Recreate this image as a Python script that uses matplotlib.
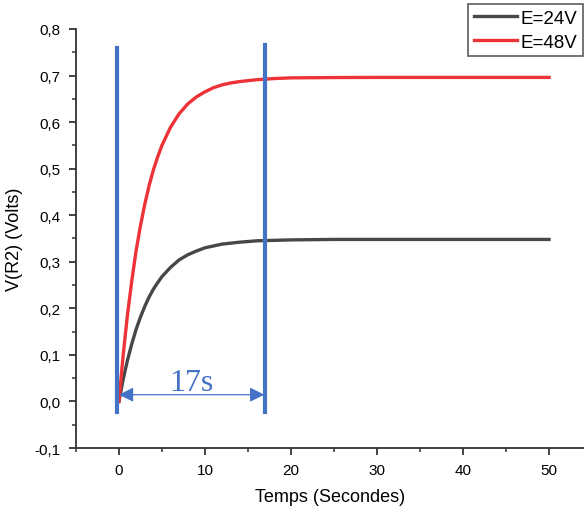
import matplotlib
matplotlib.use('Agg')
from matplotlib import pyplot as plt
from matplotlib.ticker import MultipleLocator, FuncFormatter

plt.rcParams['font.family'] = ['Liberation Sans', 'DejaVu Sans']

# time (s) and measured voltage across R2
t = [0, 0.5, 1, 1.5, 2, 2.5, 3, 3.5, 4, 4.5, 5, 6, 7, 8, 9, 10, 11, 12, 13, 14,
     16, 18, 20, 25, 30, 40, 50]
v_24 = [0.0, 0.048, 0.089, 0.124, 0.155, 0.181, 0.204, 0.224, 0.241, 0.255,
        0.268, 0.288, 0.304, 0.315, 0.323, 0.330, 0.334, 0.338, 0.340, 0.342,
        0.345, 0.346, 0.347, 0.348, 0.348, 0.348, 0.348]
v_48 = [0.0, 0.101, 0.187, 0.260, 0.324, 0.377, 0.423, 0.463, 0.497, 0.525,
        0.550, 0.589, 0.618, 0.639, 0.654, 0.665, 0.674, 0.680, 0.684, 0.687,
        0.691, 0.6935, 0.695, 0.6957, 0.696, 0.696, 0.696]

# markers for the 17 s settling time
t_start = -0.2
t_end = 17.0
marker_text = '17s'

blue = '#4472C4'

fig = plt.figure(figsize=(5.84, 5.10), dpi=100)
ax = fig.add_axes([0.130, 0.1196, 0.870, 0.8216])

ax.plot(t, v_24, color='#474747', linewidth=2.4, label='E=24V',
        solid_joinstyle='round')
ax.plot(t, v_48, color='#EE3338', linewidth=2.4, label='E=48V',
        solid_joinstyle='round')

ax.plot([t_start, t_start], [-0.023, 0.76], color=blue, linewidth=3)
ax.plot([t_end, t_end], [-0.023, 0.765], color=blue, linewidth=3)
ax.annotate('', xy=(t_end - 0.1, 0.0145), xytext=(t_start + 0.2, 0.0145),
            arrowprops=dict(arrowstyle='<|-|>', color=blue, lw=0.9,
                            mutation_scale=22, shrinkA=0, shrinkB=0))
ax.text((t_start + t_end) / 2, 0.04, marker_text, color=blue,
        fontsize=23, family='Liberation Serif', ha='center', va='center')

ax.set_xlim(-5, 54.07)
ax.set_ylim(-0.1, 0.8)
ax.xaxis.set_major_locator(MultipleLocator(10))
ax.xaxis.set_minor_locator(MultipleLocator(5))
ax.yaxis.set_major_locator(MultipleLocator(0.1))
ax.yaxis.set_minor_locator(MultipleLocator(0.05))
ax.yaxis.set_major_formatter(FuncFormatter(lambda v, p: ('%.1f' % v).replace('.', ',')))

for s in ['top', 'right']:
    ax.spines[s].set_visible(False)
for s in ['left', 'bottom']:
    ax.spines[s].set_color('#333333')
    ax.spines[s].set_linewidth(1.3)
ax.tick_params(which='major', direction='out', length=5, width=1.3,
               color='#333333', labelsize=11, pad=6)
ax.tick_params(which='minor', direction='out', length=3, width=1.1, color='#333333')

ax.set_xlabel('Temps (Secondes)', fontsize=13, labelpad=8)
ax.set_ylabel('V(R2) (Volts)', fontsize=13, labelpad=8)

leg = ax.legend(loc='upper right', bbox_to_anchor=(0.998, 0.99),
                bbox_transform=fig.transFigure, fontsize=13.5, frameon=True,
                fancybox=False, handlelength=2.3, handletextpad=0.2,
                borderpad=0.3, labelspacing=0.35, borderaxespad=0)
leg.get_frame().set_edgecolor('#333333')
leg.get_frame().set_linewidth(1.2)

fig.savefig('out.png', dpi=100)
